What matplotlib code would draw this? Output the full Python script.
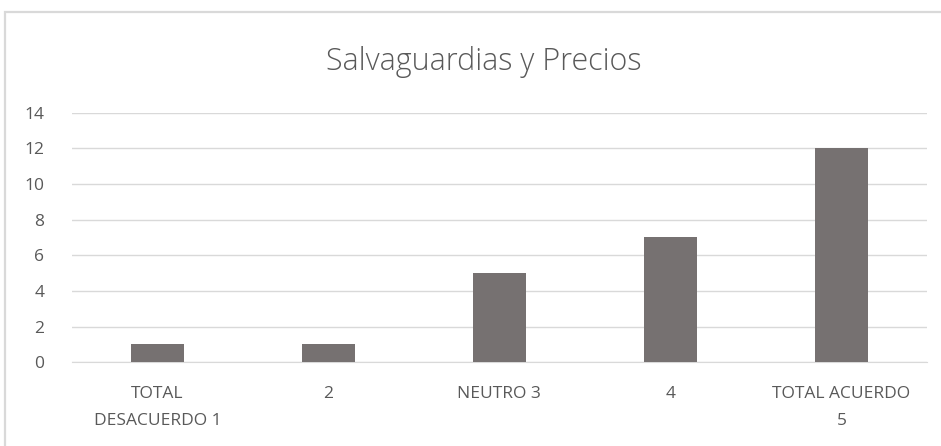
import matplotlib.pyplot as plt
from matplotlib.patches import Rectangle

categories = ['TOTAL\nDESACUERDO 1', '2', 'NEUTRO 3', '4', 'TOTAL ACUERDO\n5']
values = [1, 1, 5, 7, 12]
yticks = [0, 2, 4, 6, 8, 10, 12, 14]

plt.rcParams['font.family'] = ['Open Sans', 'DejaVu Sans']
txt = '#595959'
grid = '#d9d9d9'

fig = plt.figure(figsize=(9.41, 4.46), dpi=100)
ax = fig.add_axes([0.0765, 0.188, 0.9085, 0.559])

x = range(len(categories))
ax.bar(x, values, width=0.31, color='#767171', zorder=3)

ax.set_xlim(-0.5, len(categories) - 0.5)
ax.set_ylim(0, 14)
ax.set_yticks(yticks)
ax.set_xticks(list(x))
ax.set_xticklabels(categories, linespacing=1.95)
ax.tick_params(axis='both', length=0, colors=txt, labelsize=12.5)
ax.tick_params(axis='x', pad=17)
ax.tick_params(axis='y', pad=20)
ax.grid(axis='y', color=grid, linewidth=1, zorder=0)
for s in ['top', 'right', 'left']:
    ax.spines[s].set_visible(False)
ax.spines['bottom'].set_color(grid)

fig.text(0.514, 0.862, 'Salvaguardias y Precios', ha='center', va='center',
         fontsize=22, color=txt, fontweight='light')

# outer chart border (runs off the right and bottom edges)
fig.patches.append(Rectangle((5 / 941, -0.05), 1.0, 1 - 12 / 446 + 0.05,
                             transform=fig.transFigure, fill=False,
                             edgecolor=grid, linewidth=1.6))

fig.savefig('out.png', dpi=100)
